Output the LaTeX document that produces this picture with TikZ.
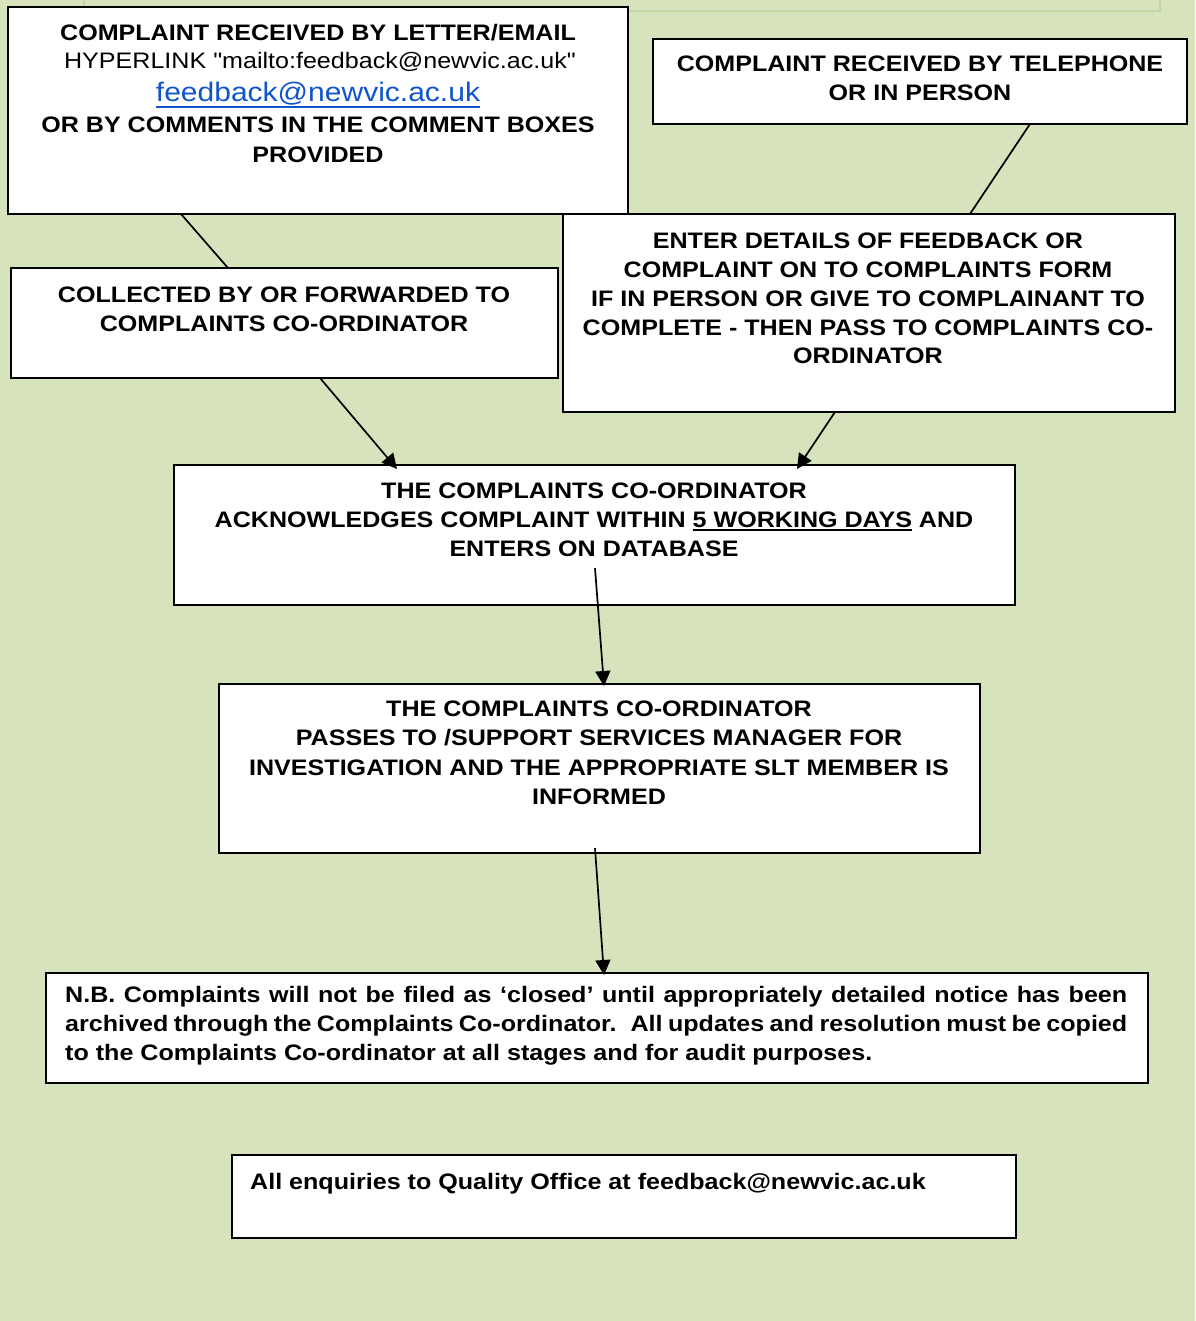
\documentclass[tikz,border=0pt]{standalone}
\usepackage{fontspec}
\setmainfont{Liberation Sans}[FakeStretch=1.12,Ligatures=TeXOff]
\usetikzlibrary{arrows.meta,calc}
\definecolor{bg}{RGB}{215,227,188}
\definecolor{framecol}{RGB}{196,214,160}
\definecolor{linkcol}{RGB}{17,85,204}
\newcommand\myul[3]{\setbox0\hbox{#3}\rlap{\rule[#1]{\wd0}{#2}}\box0\relax}
\begin{document}
\begin{tikzpicture}[x=1pt,y=-1pt,
 box/.style={draw=black,line width=1.8pt,fill=white,anchor=north west,inner sep=0pt,outer sep=0pt},
 bt/.style={anchor=base,inner sep=0pt,font=\bfseries\fontsize{22.4}{28}\selectfont},
 btl/.style={anchor=base west,inner sep=0pt,font=\bfseries\fontsize{22.4}{28}\selectfont},
 rt/.style={anchor=base,inner sep=0pt,font=\fontsize{22.4}{28}\selectfont},
 lt/.style={anchor=base,inner sep=0pt,font=\fontsize{26.8}{32}\selectfont,text=linkcol},
 conn/.style={line width=1.7pt},
 arr/.style={line width=1.7pt,-{Triangle[length=15pt,width=15pt]}}]
\useasboundingbox (0,0) rectangle (1195,1321);
\fill[bg] (0,0) rectangle (1195,1321);
\draw[framecol,line width=1.5pt] (84,0) -- (84,11) -- (1160,11) -- (1160,0);
% boxes
\node[box,minimum width=620pt,minimum height=207pt] (b1) at (8,7) {};
\node[box,minimum width=534pt,minimum height=85pt] (b2) at (653,39) {};
\node[box,minimum width=547pt,minimum height=110pt] (b3) at (11,268) {};
\node[box,minimum width=612pt,minimum height=198pt] (b4) at (563,214) {};
\node[box,minimum width=841pt,minimum height=140pt] (b5) at (174,465) {};
\node[box,minimum width=761pt,minimum height=169pt] (b6) at (219,684) {};
\node[box,minimum width=1102pt,minimum height=110pt] (b7) at (46,973) {};
\node[box,minimum width=784pt,minimum height=83pt] (b8) at (232,1155) {};
% connector end points
\coordinate (l1s) at ($(b1.south west)+(173,0)$);
\coordinate (l1e) at ($(b3.north west)+(217,0)$);
\coordinate (l2s) at ($(b2.south west)+(377,0)$);
\coordinate (l2e) at ($(b4.north west)+(407,0)$);
\coordinate (a1s) at ($(b3.south west)+(309,0)$);
\coordinate (a1e) at ($(b5.north west)+(223,4)$);
\coordinate (a2s) at ($(b4.south west)+(272,0)$);
\coordinate (a2e) at ($(b5.north west)+(623,4)$);
\coordinate (a3s) at ($(b5.north west)+(421,103)$);
\coordinate (a3e) at ($(b6.north west)+(385,2)$);
\coordinate (a4s) at ($(b6.north west)+(376,164)$);
\coordinate (a4e) at ($(b7.north west)+(558,2)$);
\draw[conn] (l1s) -- (l1e);
\draw[conn] (l2s) -- (l2e);
\draw[arr] (a1s) -- (a1e);
\draw[arr] (a2s) -- (a2e);
\draw[arr] (a3s) -- (a3e);
\draw[arr] (a4s) -- (a4e);
% texts
\node[bt] (t1a) at (318,41) {COMPLAINT RECEIVED BY LETTER/EMAIL};
\node[rt] (t1b) at (320,68.5) {HYPERLINK "mailto:feedback@newvic.ac.uk"};
\node[lt] (t1c) at (318,102) {\myul{-6.5pt}{2pt}{feedback@newvic.ac.uk}};
\node[bt] (t1d) at (318,133) {OR BY COMMENTS IN THE COMMENT BOXES};
\node[bt] (t1e) at (318,163) {PROVIDED};
\node[bt] (t2a) at (920,72) {COMPLAINT RECEIVED BY TELEPHONE};
\node[bt] (t2b) at (920,101) {OR IN PERSON};
\node[bt] (t3a) at (284,302) {COLLECTED BY OR FORWARDED TO};
\node[bt] (t3b) at (284,331) {COMPLAINTS CO-ORDINATOR};
\node[bt] (t4a) at (868,249) {ENTER DETAILS OF FEEDBACK OR};
\node[bt] (t4b) at (868,278) {COMPLAINT ON TO COMPLAINTS FORM};
\node[bt] (t4c) at (868,306) {IF IN PERSON OR GIVE TO COMPLAINANT TO};
\node[bt] (t4d) at (868,335) {COMPLETE - THEN PASS TO COMPLAINTS CO-};
\node[bt] (t4e) at (868,363) {ORDINATOR};
\node[bt] (t5a) at (594,498) {THE COMPLAINTS CO-ORDINATOR};
\node[bt] (t5b) at (594,527) {ACKNOWLEDGES COMPLAINT WITHIN \myul{-4pt}{1.8pt}{5 WORKING DAYS} AND};
\node[bt] (t5c) at (594,556) {ENTERS ON DATABASE};
\node[bt] (t6a) at (599,716) {THE COMPLAINTS CO-ORDINATOR};
\node[bt] (t6b) at (599,745) {PASSES TO /SUPPORT SERVICES MANAGER FOR};
\node[bt] (t6c) at (599,775) {INVESTIGATION AND THE APPROPRIATE SLT MEMBER IS};
\node[bt] (t6d) at (599,804) {INFORMED};
\node[btl] (t7a) at (65,1002.5) {\hbox to 1062pt{N.B. Complaints will not be filed as ‘closed’ until appropriately detailed notice has been}};
\node[btl] (t7b) at (65,1031.5) {\hbox to 1062pt{archived through the Complaints Co-ordinator.~ All updates and resolution must be copied}};
\node[btl] (t7c) at (65,1060) {to the Complaints Co-ordinator at all stages and for audit purposes.};
\node[btl] (t8a) at (250,1189) {All enquiries to Quality Office at feedback@newvic.ac.uk};
\end{tikzpicture}
\end{document}
